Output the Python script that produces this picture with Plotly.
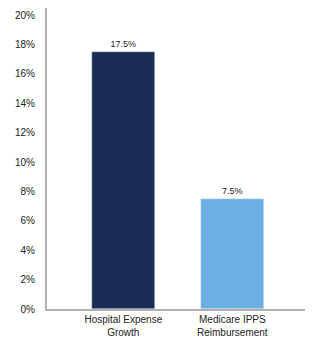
import plotly.graph_objects as go

categories = ["Hospital Expense<br>Growth", "Medicare IPPS<br>Reimbursement"]
values = [17.5, 7.5]
labels = ["17.5%", "7.5%"]
colors = ["#1a2b55", "#6cb0e3"]
tick_vals = [0, 2, 4, 6, 8, 10, 12, 14, 16, 18, 20]
tick_text = [f"{v}%" for v in tick_vals]

# page body has an 8px default margin; layout compensates for it
fig = go.Figure(go.Bar(
    x=[0, 1], y=values, marker_color=colors, width=0.58,
    text=labels, textposition="outside", cliponaxis=False,
    textfont=dict(size=9, color="#222", family="Liberation Sans, Arial, sans-serif"),
))
fig.update_layout(
    width=313, height=341,
    margin=dict(l=39, r=8, t=0, b=40, autoexpand=False),
    plot_bgcolor="white", paper_bgcolor="white",
    showlegend=False,
    font=dict(family="Liberation Sans, Arial, sans-serif", size=10, color="#333"),
    bargap=0,
)
fig.update_xaxes(
    range=[-0.7, 1.74], tickvals=[0, 1], ticktext=categories,
    showline=True, linecolor="#b0b0b0", linewidth=2, ticks="", showgrid=False,
    tickfont=dict(size=10, color="#222"), zeroline=False, automargin=False,
    ticklabelstandoff=0,
)
fig.update_yaxes(
    range=[0, 20.48], tickvals=tick_vals, ticktext=tick_text,
    showline=True, linecolor="#b0b0b0", linewidth=2, ticks="", showgrid=False,
    zeroline=False, tickfont=dict(size=10, color="#222"), ticklabelstandoff=8,
    automargin=False,
)
fig.write_html("out.html")
